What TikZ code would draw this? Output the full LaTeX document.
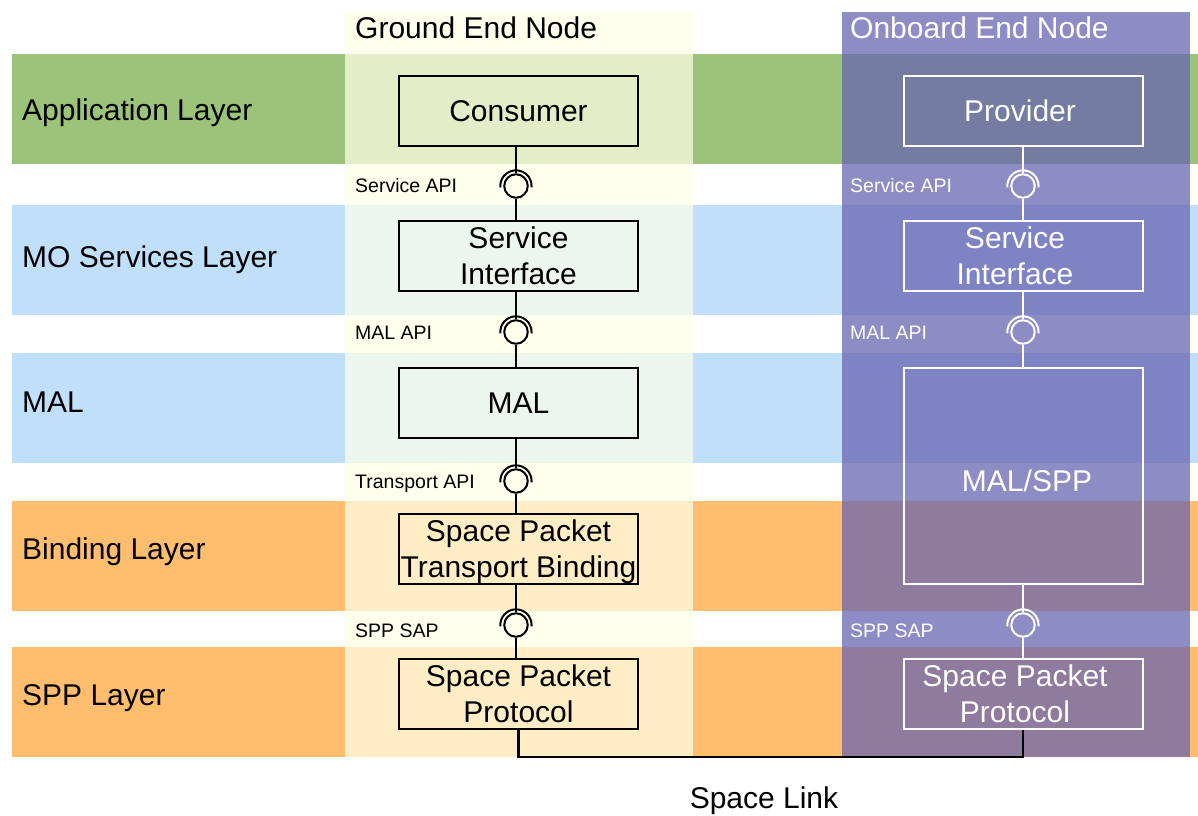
\documentclass[tikz,border=0pt]{standalone}
\usepackage{fontspec}
\setmainfont{Liberation Sans}
\definecolor{appgreen}{HTML}{9BC37A}
\definecolor{moblue}{HTML}{C0DFFB}
\definecolor{bindorange}{HTML}{FFBE6E}
\definecolor{groundcol}{RGB}{255,255,231}
\definecolor{onboardcol}{RGB}{103,100,176}
\newcommand\drawsocket[2]{\draw[#2,line width=2pt] ([shift={(185:15.7pt)}]#1.center) arc[start angle=185,end angle=-5,radius=15.7pt];}
\begin{document}
\begin{tikzpicture}[x=1pt,y=-1pt,
  big/.style={font=\fontsize{30}{36}\selectfont},
  small/.style={font=\fontsize{19.5}{23}\selectfont},
  box/.style={draw, line width=2pt, minimum width=239pt, minimum height=70pt, inner sep=0pt, align=center, big},
  gbox/.style={box, draw=black, text=black},
  obox/.style={box, draw=white, text=white},
  ball/.style={circle, draw, line width=2pt, minimum size=23.5pt, inner sep=0pt},
  conn/.style={line width=2.2pt},
  lbl/.style={anchor=base west, inner sep=0pt}]
\useasboundingbox (0,0) rectangle (1198,815);
% layer bands
\fill[appgreen] (12,54) rectangle (1198,164);
\fill[moblue] (12,205) rectangle (1198,315);
\fill[moblue] (12,353) rectangle (1198,463);
\fill[bindorange] (12,501) rectangle (1198,611);
\fill[bindorange] (12,647) rectangle (1198,757);
% layer labels
\node[lbl, big] (lapp) at (22,120) {Application Layer};
\node[lbl, big] (lmo) at (22,267) {MO Services Layer};
\node[lbl, big] (lmal) at (22,412) {MAL};
\node[lbl, big] (lbind) at (22,559) {Binding Layer};
\node[lbl, big] (lspp) at (22,705) {SPP Layer};
% end node columns
\fill[groundcol, fill opacity=0.73] (345,12) rectangle (693,757);
\fill[onboardcol, fill opacity=0.74] (842,12) rectangle (1190,757);
\node[lbl, big] (gtitle) at (355,38) {Ground End Node};
\node[lbl, big, text=white] (otitle) at (850,38) {Onboard End Node};
% ground stack
\node[gbox] (consumer) at (518.5,111) {Consumer};
\node[gbox] (gsi) at (518.5,256) {Service\\Interface};
\node[gbox] (gmal) at (518.5,403) {MAL};
\node[gbox] (gbind) at (518.5,549) {Space Packet\\\smash{Transport Binding}};
\node[gbox] (gspp) at (518.5,694) {Space Packet\\Protocol};
\node[ball, draw=black] (gia) at (516,186) {};
\node[ball, draw=black] (gib) at (516,332) {};
\node[ball, draw=black] (gic) at (516,481) {};
\node[ball, draw=black] (gid) at (516,625) {};
\drawsocket{gia}{black}
\drawsocket{gib}{black}
\drawsocket{gic}{black}
\drawsocket{gid}{black}
\draw[conn] (consumer.south -| gia) -- (gia.north);
\draw[conn] (gia.south) -- (gia.south |- gsi.north);
\draw[conn] (gsi.south -| gib) -- (gib.north);
\draw[conn] (gib.south) -- (gib.south |- gmal.north);
\draw[conn] (gmal.south -| gic) -- (gic.north);
\draw[conn] (gic.south) -- (gic.south |- gbind.north);
\draw[conn] (gbind.south -| gid) -- (gid.north);
\draw[conn] (gid.south) -- (gid.south |- gspp.north);
\node[lbl, small] (gsa) at (355,192) {Service API};
\node[lbl, small] (gma) at (355,339) {MAL API};
\node[lbl, small] (gta) at (355,488) {Transport API};
\node[lbl, small] (gsap) at (355,637) {SPP SAP};
% onboard stack
\node[obox] (prov) at (1023,111) {Provider\hspace*{6pt}};
\node[obox] (osi) at (1023,256) {Service\hspace*{16pt}\\Interface\hspace*{16pt}};
\node[obox, minimum height=216pt, text height=30pt, text depth=0pt] (malspp) at (1023,476) {\hspace*{8pt}MAL/SPP};
\node[obox] (ospp) at (1023,694) {Space Packet\hspace*{16pt}\\Protocol\hspace*{16pt}};
\node[ball, draw=white] (oia) at (1023,186) {};
\node[ball, draw=white] (oib) at (1023,332) {};
\node[ball, draw=white] (oid) at (1023,625) {};
\drawsocket{oia}{white}
\drawsocket{oib}{white}
\drawsocket{oid}{white}
\draw[conn, white] (prov.south) -- (oia.north);
\draw[conn, white] (oia.south) -- (osi.north);
\draw[conn, white] (osi.south) -- (oib.north);
\draw[conn, white] (oib.south) -- (malspp.north);
\draw[conn, white] (malspp.south) -- (oid.north);
\draw[conn, white] (oid.south) -- (ospp.north);
\node[lbl, small, text=white] (osa) at (850,192) {Service API};
\node[lbl, small, text=white] (oma) at (850,339) {MAL API};
\node[lbl, small, text=white] (osap) at (850,637) {SPP SAP};
% space link
\draw[line width=2.5pt] (gspp.south) -- ++(0,27) -| (ospp.south);
\node[big, anchor=base, inner sep=0pt] (slink) at (764,808) {Space Link};
\end{tikzpicture}
\end{document}
